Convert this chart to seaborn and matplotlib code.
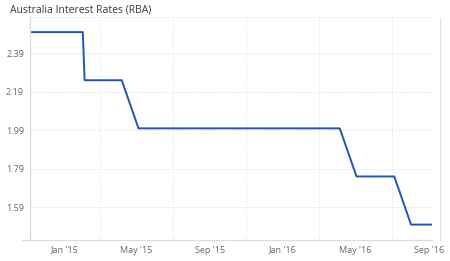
import matplotlib
matplotlib.use("Agg")
import matplotlib.pyplot as plt
import matplotlib.dates as mdates
import seaborn as sns
import pandas as pd

dates = ["2014-11-04", "2014-12-02", "2015-02-01", "2015-02-04", "2015-03-03",
         "2015-04-07", "2015-05-05", "2015-06-02", "2015-07-07", "2015-08-04",
         "2015-09-01", "2015-10-06", "2015-11-03", "2015-12-01", "2016-02-02",
         "2016-03-01", "2016-04-05", "2016-05-03", "2016-06-07", "2016-07-05",
         "2016-08-02", "2016-09-06"]
rates = [2.50, 2.50, 2.50, 2.25, 2.25,
         2.25, 2.00, 2.00, 2.00, 2.00,
         2.00, 2.00, 2.00, 2.00, 2.00,
         2.00, 2.00, 1.75, 1.75, 1.75,
         1.50, 1.50]
y_ticks = [1.59, 1.79, 1.99, 2.19, 2.39]
title = "Australia Interest Rates (RBA)"

df = pd.DataFrame({"date": pd.to_datetime(dates), "rate": rates})

sns.set_theme(style="white")
plt.rcParams["font.family"] = ["Open Sans", "DejaVu Sans"]

fig = plt.figure(figsize=(4.5, 2.61), dpi=100)
ax = fig.add_axes([29.5 / 450, 21 / 261, (432 - 29.5) / 450, (240 - 17.5) / 261])

grid_c = "#e6e6e6"
gls = (0, (1.5, 1.5))
ax.set_ylim(1.42, 2.576)
ax.set_xlim(df["date"].min(), df["date"].max())
ax.set_yticks(y_ticks)
ax.set_yticklabels([f"{v:.2f}" for v in y_ticks])

ax.xaxis.set_major_locator(mdates.MonthLocator(bymonth=[1, 5, 9]))
ax.xaxis.set_major_formatter(mdates.DateFormatter("%b '%y"))
ax.xaxis.set_minor_locator(mdates.MonthLocator(bymonth=[1, 3, 5, 7, 9, 11]))

ax.grid(True, which="minor", axis="x", color=grid_c, linestyle=gls, linewidth=0.7)
ax.grid(True, which="major", axis="y", color=grid_c, linestyle=gls, linewidth=0.7)
ax.axhline(2.576, color=grid_c, linestyle=gls, linewidth=0.7, clip_on=False)

sns.lineplot(data=df, x="date", y="rate", ax=ax, color="#1f57b0", linewidth=1.4)
ax.set_xlabel("")
ax.set_ylabel("")

for s in ["top", "right"]:
    ax.spines[s].set_visible(False)
for s in ["left", "bottom"]:
    ax.spines[s].set_color("#dcdcdc")
    ax.spines[s].set_linewidth(0.9)

ax.tick_params(axis="both", which="both", length=0, labelsize=6.5, labelcolor="#666666")
ax.tick_params(axis="y", pad=4)
ax.tick_params(axis="x", pad=4)

fig.add_artist(plt.Line2D([440 / 450, 440 / 450], [21 / 261, (261 - 18) / 261],
                          color="#e0e0e0", linewidth=0.9))
fig.add_artist(plt.Line2D([22 / 450, 29.5 / 450], [21 / 261, 21 / 261],
                          color="#dcdcdc", linewidth=0.9))

fig.text(10 / 450, 1 - 10 / 261, title, fontsize=7.5, color="#3a3a3a", va="center", ha="left")

fig.savefig("out.png", dpi=100)
